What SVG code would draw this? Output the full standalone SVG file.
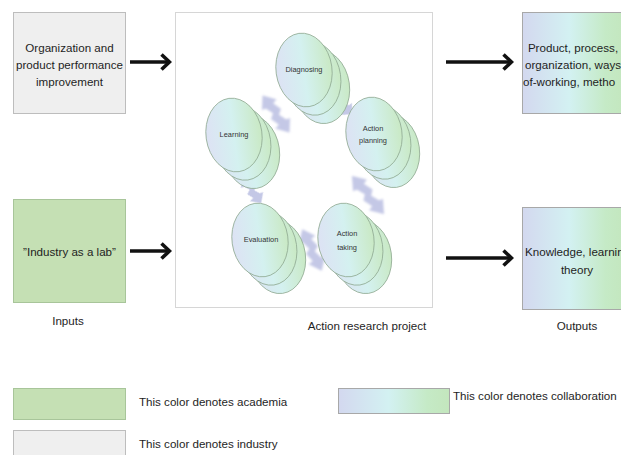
<svg xmlns="http://www.w3.org/2000/svg" width="621" height="455" viewBox="0 0 621 455">
  <defs>
    <linearGradient id="collab" x1="0" y1="0" x2="1" y2="0">
      <stop offset="0" stop-color="#d3d8ef"/>
      <stop offset="0.45" stop-color="#d3f1f2"/>
      <stop offset="0.8" stop-color="#c5eac6"/>
      <stop offset="1" stop-color="#c3e6bd"/>
    </linearGradient>
    <linearGradient id="bubble" x1="0" y1="0" x2="1" y2="0">
      <stop offset="0" stop-color="#dde2f4"/>
      <stop offset="0.5" stop-color="#d4f1f0"/>
      <stop offset="1" stop-color="#c9e9c4"/>
    </linearGradient>
    <filter id="soft" x="-20%" y="-20%" width="140%" height="140%">
      <feGaussianBlur stdDeviation="0.8"/>
    </filter>
    <marker id="head" viewBox="0 0 12 18" refX="10.5" refY="9" markerWidth="12" markerHeight="18" markerUnits="userSpaceOnUse" orient="auto">
      <path d="M2,1.5 L10,9 L2,16.5" fill="none" stroke="#111" stroke-width="3.6"/>
    </marker>
    <path id="zig" d="M-20,0 L-10,-9 L-9,-4 L-1,-7 L2,-2 L9,-5 L10,-9 L20,0 L10,9 L9,4 L1,7 L-2,2 L-9,5 L-10,9 Z"/>
    <!-- three stacked phase discs, drawn back to front -->
    <g id="stack" fill="url(#bubble)" stroke="#90aa92" stroke-width="0.8">
      <ellipse cx="15" cy="19" rx="28" ry="37"/>
      <ellipse cx="7.5" cy="9.5" rx="28" ry="37"/>
      <ellipse cx="0" cy="0" rx="28" ry="37"/>
    </g>
  </defs>
  <style>
    text { font-family: "Liberation Sans", Arial, sans-serif; fill: #1e1e1e; }
    .lbl { font-size: 11.6px; text-anchor: middle; }
    .box-text { font-size: 11.6px; text-anchor: middle; }
    .small { font-size: 7.4px; text-anchor: middle; fill: #333; }
    .industry { fill: #efefef; stroke: #bdbdbd; stroke-width: 1; }
    .academia { fill: #c5e0b4; stroke: #a8c59a; stroke-width: 1; }
    .collab { fill: url(#collab); stroke: #a8a8a8; stroke-width: 1; }
    .frame { fill: #ffffff; stroke: #d6d6d6; stroke-width: 1; }
    .link { fill: none; stroke: #111; stroke-width: 3.6; marker-end: url(#head); }
    .cycle-link { fill: #c4c8e6; filter: url(#soft); }
  </style>

  <rect width="621" height="455" fill="#ffffff"/>

  <!-- inputs -->
  <g id="input-industry">
    <rect class="industry" x="13.5" y="12.5" width="112" height="101"/>
    <text class="box-text" x="69.5" y="52">Organization and</text>
    <text class="box-text" x="69.5" y="69">product performance</text>
    <text class="box-text" x="69.5" y="86">improvement</text>
  </g>
  <g id="input-academia">
    <rect class="academia" x="13.5" y="199.5" width="112" height="103"/>
    <text class="box-text" x="69.5" y="256">”Industry as a lab”</text>
  </g>

  <!-- action research project -->
  <g id="project">
    <rect class="frame" x="175.5" y="12.5" width="257" height="295"/>
  </g>

  <!-- cycle links between phases -->
  <g id="cycle-links">
    <use href="#zig" class="cycle-link" transform="translate(276,114) rotate(54) scale(1.15,1)"/>
    <use href="#zig" class="cycle-link" transform="translate(341,104) rotate(42) scale(0.75,0.9)"/>
    <use href="#zig" class="cycle-link" transform="translate(368,195) rotate(50) scale(1.25,1)"/>
    <use href="#zig" class="cycle-link" transform="translate(312,250) rotate(65) scale(1.15,1)"/>
    <use href="#zig" class="cycle-link" transform="translate(252,190) rotate(55) scale(0.8,0.9)"/>
  </g>

  <g id="diagnosing">
    <use href="#stack" transform="translate(304,70) rotate(-8)"/>
    <text class="small" x="304" y="72">Diagnosing</text>
  </g>
  <g id="action-planning">
    <use href="#stack" transform="translate(374,134) rotate(-8)"/>
    <text class="small" x="373" y="131">Action</text>
    <text class="small" x="373" y="143">planning</text>
  </g>
  <g id="action-taking">
    <use href="#stack" transform="translate(346,240) rotate(-8)"/>
    <text class="small" x="347" y="236">Action</text>
    <text class="small" x="347" y="250">taking</text>
  </g>
  <g id="evaluation">
    <use href="#stack" transform="translate(260,240) rotate(-8)"/>
    <text class="small" x="261" y="242">Evaluation</text>
  </g>
  <g id="learning">
    <use href="#stack" transform="translate(234,135) rotate(-8)"/>
    <text class="small" x="234" y="137">Learning</text>
  </g>

  <!-- outputs -->
  <g id="output-practice">
    <rect class="collab" x="522.5" y="12.5" width="104" height="101"/>
    <text class="box-text" x="573" y="52">Product, process,</text>
    <text class="box-text" x="525" y="69" style="text-anchor:start">organization, ways</text>
    <text class="box-text" x="523" y="86" style="text-anchor:start">of-working, metho</text>
  </g>
  <g id="output-theory">
    <rect class="collab" x="522.5" y="207.5" width="104" height="102"/>
    <text class="box-text" x="525" y="256" style="text-anchor:start">Knowledge, learnin</text>
    <text class="box-text" x="577" y="274">theory</text>
  </g>

  <!-- flow arrows -->
  <g id="connectors">
    <path class="link" d="M130,62 H170"/>
    <path class="link" d="M130,251 H170"/>
    <path class="link" d="M446,62 H512"/>
    <path class="link" d="M446,258 H512"/>
  </g>

  <!-- column captions -->
  <g id="captions">
    <text class="lbl" x="68" y="325">Inputs</text>
    <text class="lbl" x="367" y="330">Action research project</text>
    <text class="lbl" x="577" y="330">Outputs</text>
  </g>

  <!-- legend -->
  <g id="legend">
    <rect class="academia" x="13.5" y="388.5" width="112" height="31"/>
    <text x="139" y="406" font-size="11.6">This color denotes academia</text>
    <rect class="industry" x="13.5" y="430.5" width="112" height="30"/>
    <text x="139" y="448" font-size="11.6">This color denotes industry</text>
    <rect class="collab" x="338.5" y="388.5" width="111" height="25"/>
    <text x="453" y="400" font-size="11.6">This color denotes collaboration</text>
  </g>
</svg>
